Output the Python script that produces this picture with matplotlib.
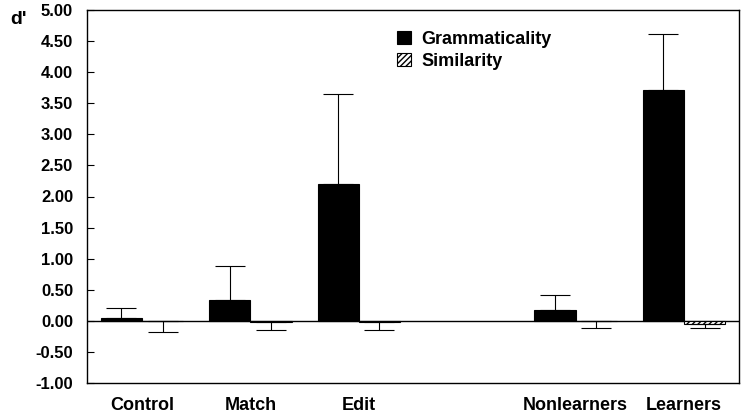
import numpy as np
import matplotlib.pyplot as plt

plt.rcParams['font.family'] = ['Liberation Sans', 'DejaVu Sans']
plt.rcParams['font.weight'] = 'bold'

groups = ['Control', 'Match', 'Edit', 'Nonlearners', 'Learners']
positions = [0, 1, 2, 4, 5]

gram = [0.05, 0.33, 2.20, 0.17, 3.72]
gram_top = [0.20, 0.89, 3.65, 0.42, 4.62]
sim = [-0.01, -0.02, -0.02, -0.01, -0.05]
sim_bottom = [-0.18, -0.14, -0.15, -0.12, -0.12]

pos = np.array(positions, dtype=float)
w = 0.38

fig = plt.figure(figsize=(7.48, 4.2), dpi=100)
ax = fig.add_axes([87 / 748, 1 - 383 / 420, (739 - 87) / 748, (383 - 10) / 420])

ax.axhline(0, color='black', lw=1.0, zorder=1)

g_err = np.array(gram_top) - np.array(gram)
ax.bar(pos - w / 2, gram, w, color='black', edgecolor='black', lw=0.8,
       label='Grammaticality', zorder=2)
ax.errorbar(pos - w / 2, gram, yerr=[np.zeros(len(gram)), g_err], fmt='none',
            ecolor='black', elinewidth=0.8, capsize=11, capthick=0.8, zorder=3)

s_err = np.array(sim) - np.array(sim_bottom)
ax.bar(pos + w / 2, sim, w, color='white', edgecolor='black', lw=0.8,
       hatch='//////', label='Similarity', zorder=2)
ax.errorbar(pos + w / 2, sim, yerr=[s_err, np.zeros(len(sim))], fmt='none',
            ecolor='black', elinewidth=0.8, capsize=11, capthick=0.8, zorder=3)

ax.set_xlim(-0.507, 5.507)
ax.set_ylim(-1.0, 5.0)
yt = np.arange(-1.0, 5.01, 0.5)
ax.set_yticks(yt)
ax.set_yticklabels(['%.2f' % v for v in yt], fontsize=12, fontweight='bold')
ax.set_xticks(pos)
ax.set_xticklabels(groups, fontsize=13, fontweight='bold')
ax.tick_params(axis='x', length=0, pad=10)
ax.tick_params(axis='y', direction='in', length=5, width=0.8, pad=10)
for s in ax.spines.values():
    s.set_linewidth(1.0)

fig.text(10 / 748, 1 - 19 / 420, "d'", fontsize=14, fontweight='bold',
         va='center', ha='left')

ax.legend(loc='upper left', bbox_to_anchor=((397 - 87) / 652, (383 - 31) / 373),
          frameon=False, fontsize=13, handlelength=0.75, handleheight=0.75,
          handletextpad=0.6, labelspacing=0.25, borderpad=0, borderaxespad=0)

fig.savefig('out.png', dpi=100)
